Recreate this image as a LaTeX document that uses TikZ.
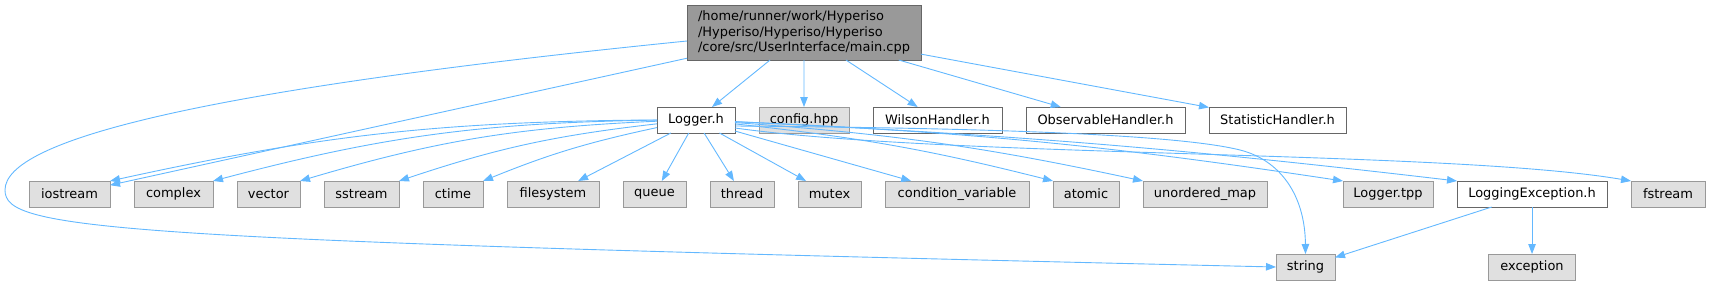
\documentclass[tikz,border=0pt]{standalone}
\usepackage{fontspec}
\setmainfont{DejaVu Sans}
\usetikzlibrary{positioning, arrows.meta}
\definecolor{edgeblue}{HTML}{63B8FF}
\definecolor{sysfill}{HTML}{E0E0E0}
\definecolor{sysline}{HTML}{999999}
\definecolor{usrline}{HTML}{666666}
\definecolor{mainfill}{HTML}{999999}

\begin{document}
\begin{tikzpicture}[x=1bp, y=-1bp, ->, >={Triangle[length=10bp, width=7.5bp]},
    node distance=24bp, line width=0.9bp,
    every node/.style={font=\fontsize{13}{15.3}\selectfont, inner xsep=2bp, inner ysep=0pt,
      minimum height=26bp, outer sep=0pt},
    boxw/.style={minimum width=#1},
    usrfile/.style={draw=usrline, fill=white},
    sysfile/.style={draw=sysline, fill=sysfill},
    srcfile/.style={draw=usrline, fill=mainfill, align=left, minimum height=55bp},
    every edge/.style={draw=edgeblue}]
  \useasboundingbox (0,0) rectangle (1710,285);

  % the source file
  \node[srcfile, boxw=234bp] (main) at (804,32.5) {/home/runner/work/Hyperiso\\/Hyperiso/Hyperiso/Hyperiso\\/core/src/UserInterface/main.cpp};

  % direct includes
  \node[usrfile, boxw=78bp] (logger) at (696,120) {Logger.h};
  \node[sysfile, boxw=90bp, right=of logger] (config) {config.hpp};
  \node[usrfile, boxw=129bp, right=of config] (wilson) {WilsonHandler.h};
  \node[usrfile, boxw=159bp, right=of wilson] (observ) {ObservableHandler.h};
  \node[usrfile, boxw=137bp, right=of observ] (statist) {StatisticHandler.h};

  % includes of Logger.h
  \node[sysfile, boxw=81bp] (iostream) at (69.5,194) {iostream};
  \node[sysfile, boxw=79bp, right=of iostream] (complex) {complex};
  \node[sysfile, boxw=63bp, right=of complex] (vector) {vector};
  \node[sysfile, boxw=75bp, right=of vector] (sstream) {sstream};
  \node[sysfile, boxw=60bp, right=of sstream] (ctime) {ctime};
  \node[sysfile, boxw=92bp, right=of ctime] (filesys) {filesystem};
  \node[sysfile, boxw=63bp, right=of filesys] (queue) {queue};
  \node[sysfile, boxw=64bp, right=of queue] (thread) {thread};
  \node[sysfile, boxw=63bp, right=of thread] (mutex) {mutex};
  \node[sysfile, boxw=144bp, right=of mutex] (condvar) {condition\_variable};
  \node[sysfile, boxw=66bp, right=of condvar] (atomic) {atomic};
  \node[sysfile, boxw=124bp, right=of atomic] (umap) {unordered\_map};
  \node[sysfile, boxw=90bp, right=76bp of umap] (ltpp) {Logger.tpp};
  \node[usrfile, boxw=150bp, right=of ltpp] (lexc) {LoggingException.h};
  \node[sysfile, boxw=74bp, right=of lexc] (fstream) {fstream};

  \node[sysfile, boxw=59bp] (string) at (1305.5,267) {string};
  \node[sysfile, boxw=87bp, below=47bp of lexc] (except) {exception};

  \path (main) edge (logger) edge (config) edge (wilson) edge (observ) edge (statist) edge (iostream);
  \draw[edgeblue] ([yshift=-8.5bp]main.west) .. controls (200,90) and (5,140) .. (5,190)
    .. controls (5,230) and (100,240) .. (string.west);

  \path (logger) edge[bend right=6] (iostream.north east)
    (logger) edge[bend right=7] (complex.north east)
    (logger) edge[bend right=7] (vector.north east)
    (logger) edge[bend right=6] (sstream.north east)
    (logger) edge[bend right=5] (ctime.north east)
    (logger) edge (filesys) edge (queue) edge (thread) edge (mutex) edge (condvar)
    (logger) edge[bend left=4] (atomic.north west)
    (logger) edge[bend left=4] (umap.north west)
    (logger) edge[bend left=3] (ltpp.north west)
    (logger) edge[bend left=2] (lexc.north west);
  \draw[edgeblue] ([yshift=-8bp]logger.east) .. controls (950,158) and (1450,150) .. (fstream.north west);
  \draw[edgeblue] ([yshift=-6bp]logger.east) .. controls (1000,128) and (1180,135) .. (1240,150)
    .. controls (1280,160) and (1305,195) .. (string.north);

  \path (lexc) edge (string) edge (except);
\end{tikzpicture}
\end{document}
